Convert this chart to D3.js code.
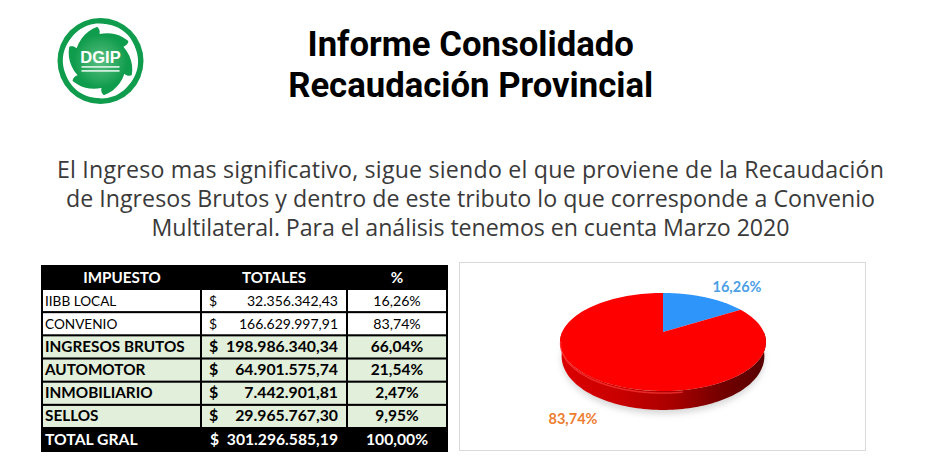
<!DOCTYPE html>
<html lang="es">
<head>
  <meta charset="UTF-8">
  <title>Informe Consolidado</title>
  <style>
    html, body { margin: 0; padding: 0; background: #fff; }
    svg { display: block; }
  </style>
</head>
<body>
  <svg id="svg" width="927" height="461"></svg>
  <script src="https://d3js.org/d3.v7.min.js"></script>
  <script>
    // datos
    const titulo = ['Informe Consolidado', 'Recaudación Provincial']
    const parrafo = [
      'El Ingreso mas significativo, sigue siendo el que proviene de la Recaudación',
      'de Ingresos Brutos y dentro de este tributo lo que corresponde a Convenio',
      'Multilateral. Para el análisis tenemos en cuenta Marzo 2020'
    ]
    const encabezados = ['IMPUESTO', 'TOTALES', '%']
    const impuestos = ['IIBB LOCAL', 'CONVENIO', 'INGRESOS BRUTOS', 'AUTOMOTOR', 'INMOBILIARIO', 'SELLOS']
    const totales = ['32.356.342,43', '166.629.997,91', '198.986.340,34', '64.901.575,74', '7.442.901,81', '29.965.767,30']
    const porcentajes = ['16,26%', '83,74%', '66,04%', '21,54%', '2,47%', '9,95%']
    const resaltadas = ['INGRESOS BRUTOS', 'AUTOMOTOR', 'INMOBILIARIO', 'SELLOS']
    const totalGral = ['TOTAL GRAL', '301.296.585,19', '100,00%']

    const tortaNombres = ['IIBB LOCAL', 'CONVENIO']
    const tortaValores = [16.26, 83.74]
    const tortaEtiquetas = ['16,26%', '83,74%']
    const tortaColores = ['#2e95fb', '#fe0000']
    const etiquetaColores = ['#4c9fe6', '#ed7d31']

    const svg = d3.select('#svg')
    const defs = svg.append('defs')

    // titulo y parrafo
    svg.selectAll('text.titulo')
      .data(titulo)
      .enter()
      .append('text')
      .attr('class', 'titulo')
      .attr('x', 470.7)
      .attr('y', (d, i) => 56 + i * 41)
      .attr('text-anchor', 'middle')
      .attr('font-family', 'Roboto')
      .attr('font-weight', 700)
      .attr('font-size', 34.7)
      .attr('fill', '#000')
      .text(d => d)

    svg.selectAll('text.parrafo')
      .data(parrafo)
      .enter()
      .append('text')
      .attr('class', 'parrafo')
      .attr('x', 470.5)
      .attr('y', (d, i) => 178 + i * 29)
      .attr('text-anchor', 'middle')
      .attr('font-family', 'Open Sans')
      .attr('font-size', 23.2)
      .attr('textLength', (d, i) => [827, 809, 638][i])
      .attr('fill', '#3a3a3a')
      .text(d => d)

    // logo
    const gradLogo = defs.append('radialGradient').attr('id', 'logoCentro')
    gradLogo.append('stop').attr('offset', 0).attr('stop-color', '#5cc083')
    gradLogo.append('stop').attr('offset', 1).attr('stop-color', '#0f9c4c')

    const logo = svg.append('g').attr('transform', 'translate(100.5,61)')
    logo.append('circle').attr('r', 43).attr('fill', '#0f9c4c')
    logo.append('circle').attr('r', 27).attr('fill', 'url(#logoCentro)')
    logo.selectAll('path')
      .data(d3.range(6))
      .enter()
      .append('path')
      .attr('transform', d => `rotate(${d * 60})`)
      .attr('d', 'M -6 -36 C 12 -40 30 -30 35 -12 C 27 -24 14 -30 -1 -27 C 0 -31 -2 -34 -6 -36 Z')
      .attr('fill', '#fff')
    logo.append('text')
      .attr('y', 2)
      .attr('text-anchor', 'middle')
      .attr('font-family', 'Liberation Sans')
      .attr('font-weight', 700)
      .attr('font-size', 16.5)
      .attr('fill', '#fff')
      .text('DGIP')
    logo.selectAll('rect')
      .data([5, 9])
      .enter()
      .append('rect')
      .attr('x', -19)
      .attr('y', d => d)
      .attr('width', 38)
      .attr('height', 1.8)
      .attr('fill', '#cfeedd')

    // tabla
    const tablaX = d3.scaleOrdinal().domain(encabezados).range([43, 202, 348])
    const tablaW = d3.scaleOrdinal().domain(encabezados).range([157, 144, 98])
    const filaY = d3.scaleBand().domain(impuestos).range([290, 427]).paddingInner(0.09).paddingOuter(0)

    svg.append('rect')
      .attr('x', 41).attr('y', 265)
      .attr('width', 407).attr('height', 187)
      .attr('fill', '#000')

    svg.selectAll('text.enc')
      .data(encabezados)
      .enter()
      .append('text')
      .attr('class', 'enc')
      .attr('x', (d, i) => [122, 274, 397][i])
      .attr('y', 282.5)
      .attr('text-anchor', 'middle')
      .attr('font-family', 'Lato')
      .attr('font-weight', 700)
      .attr('font-size', 15.2)
      .attr('fill', '#fff')
      .text(d => d)

    const filas = svg.selectAll('g.fila')
      .data(impuestos)
      .enter()
      .append('g')
      .attr('class', 'fila')
      .attr('transform', d => `translate(0,${filaY(d)})`)

    filas.selectAll('rect')
      .data(d => encabezados.map(e => ({ col: e, nombre: d })))
      .enter()
      .append('rect')
      .attr('x', d => tablaX(d.col))
      .attr('width', d => tablaW(d.col))
      .attr('height', filaY.bandwidth())
      .attr('fill', d => resaltadas.includes(d.nombre) ? '#e2efda' : '#fff')

    const estiloFila = (sel, bold, normal) => sel
      .attr('y', filaY.bandwidth() / 2 + 5)
      .attr('font-family', 'Lato')
      .attr('font-weight', d => resaltadas.includes(d) ? 700 : 400)
      .attr('font-size', d => resaltadas.includes(d) ? bold : normal)
      .attr('fill', '#000')

    filas.append('text').attr('x', 45).call(estiloFila, 15.3, 13.6).text(d => d)
    filas.append('text').attr('x', 209).call(estiloFila, 16, 14).text('$')
    filas.append('text').attr('x', 338).attr('text-anchor', 'end').call(estiloFila, 15.8, 14)
      .text((d, i) => totales[i])
    filas.append('text').attr('x', 397).attr('text-anchor', 'middle').call(estiloFila, 15.5, 14.2)
      .text((d, i) => porcentajes[i])

    const filaTotal = svg.append('g')
      .attr('font-family', 'Lato')
      .attr('font-weight', 700)
      .attr('font-size', 15.7)
      .attr('fill', '#fff')
    filaTotal.append('text').attr('x', 45).attr('y', 445).text(totalGral[0])
    filaTotal.append('text').attr('x', 210).attr('y', 445).text('$')
    filaTotal.append('text').attr('x', 338).attr('y', 445).attr('text-anchor', 'end').text(totalGral[1])
    filaTotal.append('text').attr('x', 397).attr('y', 445).attr('text-anchor', 'middle').text(totalGral[2])

    // panel del grafico
    svg.append('rect')
      .attr('x', 459.5).attr('y', 262.5)
      .attr('width', 406).attr('height', 188)
      .attr('fill', '#fff')
      .attr('stroke', '#d9d9d9')

    // torta con perspectiva
    const cx = 663, cy = 332, radio = 100.8, alto = 47, fuga = 0.204
    const proyectar = (ang, r = 1, caida = 0) => {
      const u = r * Math.sin(ang)
      const v = r * Math.cos(ang)
      const s = 1 / (1 + fuga * v)
      return [cx + radio * u * s, cy - alto * v * s + caida * (13 - 7 * Math.cos(ang) * (Math.cos(ang) < 0 ? 1 : 0))]
    }
    const linea = d3.line()
    const arcos = d3.pie().sort(null)(tortaValores)
    const muestras = (a, b) => d3.range(0, 121).map(i => a + (b - a) * i / 120)

    const gradLado = defs.append('linearGradient').attr('id', 'lado')
    gradLado.selectAll('stop')
      .data([[0, '#dc0000'], [0.3, '#c80000'], [0.55, '#a80000'], [0.78, '#740000'], [1, '#560000']])
      .enter()
      .append('stop')
      .attr('offset', d => d[0])
      .attr('stop-color', d => d[1])

    defs.append('filter').attr('id', 'sombra')
      .attr('x', '-10%').attr('y', '-10%').attr('width', '120%').attr('height', '130%')
      .append('feGaussianBlur').attr('stdDeviation', 3)

    const frente = muestras(Math.PI / 2, Math.PI * 1.5)
    const contornoLado = frente.map(a => proyectar(a))
      .concat(frente.slice().reverse().map(a => proyectar(a, 0.985, 1)))

    svg.append('path')
      .attr('d', linea(frente.map(a => proyectar(a, 0.985, 1.2))) + 'Z')
      .attr('fill', '#bdbdbd')
      .attr('opacity', 0.6)
      .attr('filter', 'url(#sombra)')

    svg.append('path')
      .attr('d', linea(contornoLado) + 'Z')
      .attr('fill', 'url(#lado)')

    svg.selectAll('path.porcion')
      .data(arcos)
      .enter()
      .append('path')
      .attr('class', 'porcion')
      .attr('d', d => linea([[cx, cy]].concat(muestras(d.startAngle, d.endAngle).map(a => proyectar(a)))) + 'Z')
      .attr('fill', (d, i) => tortaColores[i])

    // brillo del borde
    svg.append('path')
      .attr('d', linea(muestras(Math.PI * 0.95, Math.PI * 1.45).map(a => proyectar(a, 0.995, 0.12))))
      .attr('fill', 'none')
      .attr('stroke', '#ff3a3a')
      .attr('stroke-width', 1.5)
      .attr('opacity', 0.7)

    svg.selectAll('text.etiqueta')
      .data(tortaEtiquetas)
      .enter()
      .append('text')
      .attr('class', 'etiqueta')
      .attr('x', (d, i) => [737, 573][i])
      .attr('y', (d, i) => [292, 424][i])
      .attr('text-anchor', 'middle')
      .attr('font-family', 'Lato')
      .attr('font-weight', 700)
      .attr('font-size', 14.5)
      .attr('fill', (d, i) => etiquetaColores[i])
      .text(d => d)
  </script>
</body>
</html>
